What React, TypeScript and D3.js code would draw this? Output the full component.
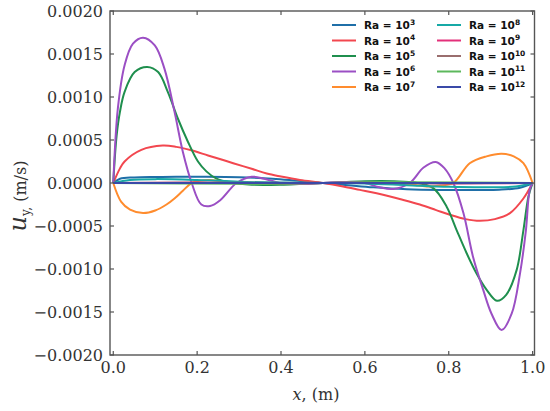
import React from "react";
import * as d3 from "d3";

// ---- data (u in units of 1e-4 m/s) ----
const xTicks = [0, 0.2, 0.4, 0.6, 0.8, 1.0];
const yTicks = [-0.002, -0.0015, -0.001, -0.0005, 0, 0.0005, 0.001, 0.0015, 0.002];

const ra3X = [0, 0.016, 0.05, 0.1, 0.15, 0.22, 0.3, 0.38, 0.44, 0.5, 0.56, 0.62, 0.7, 0.78, 0.85, 0.92, 0.97, 1];
const ra3U = [0, 0.5, 0.65, 0.7, 0.72, 0.73, 0.68, 0.5, 0.25, 0, -0.25, -0.5, -0.72, -0.8, -0.8, -0.78, -0.55, 0];

const ra4X = [0, 0.016, 0.027, 0.067, 0.118, 0.15, 0.186, 0.226, 0.26, 0.286, 0.33, 0.366, 0.4, 0.445, 0.5, 0.548, 0.588, 0.628, 0.69, 0.731, 0.77, 0.803, 0.84, 0.874, 0.91, 0.946, 0.978, 1];
const ra4U = [0, 1.7, 2.5, 3.85, 4.35, 4.2, 3.8, 3.2, 2.7, 2.3, 1.65, 1.1, 0.75, 0.35, 0, -0.4, -0.8, -1.2, -1.95, -2.5, -3.15, -3.7, -4.2, -4.4, -4.2, -3.5, -1.8, 0];

const ra5X = [0, 0.008, 0.016, 0.027, 0.051, 0.081, 0.107, 0.13, 0.154, 0.178, 0.202, 0.222, 0.246, 0.28, 0.33, 0.4, 0.45, 0.5, 0.55, 0.6, 0.67, 0.72, 0.763, 0.795, 0.819, 0.843, 0.866, 0.89, 0.915, 0.937, 0.962, 0.978, 0.99, 1];
const ra5U = [0, 5.5, 8.3, 10.6, 12.9, 13.5, 12.9, 10.6, 7.5, 4.8, 2.5, 1.35, 0.5, 0.05, -0.2, -0.2, -0.1, 0, 0.1, 0.2, 0.2, 0.05, -0.6, -2.75, -5.5, -8.2, -10.5, -12.4, -13.7, -13.0, -10.1, -5.5, -1.6, 0];

const ra6X = [0, 0.011, 0.027, 0.047, 0.071, 0.099, 0.122, 0.146, 0.166, 0.187, 0.21, 0.231, 0.255, 0.294, 0.33, 0.36, 0.397, 0.45, 0.5, 0.55, 0.6, 0.635, 0.668, 0.707, 0.74, 0.769, 0.79, 0.811, 0.835, 0.858, 0.882, 0.902, 0.926, 0.95, 0.97, 0.984, 0.993, 1];
const ra6U = [0, 8.7, 13.7, 16.2, 16.9, 16.0, 13.3, 8.3, 3.6, 0, -2.5, -2.67, -2.0, 0, 0.73, 0.5, 0, -0.12, 0, 0.12, 0, -0.5, -0.7, 0, 1.8, 2.45, 1.7, 0, -3.5, -8.6, -12.4, -15.2, -17.1, -15.2, -10.5, -5.5, -0.8, 0];

const ra7X = [0, 0.019, 0.04, 0.071, 0.1, 0.127, 0.146, 0.166, 0.187, 0.21, 0.23, 0.26, 0.3, 0.4, 0.5, 0.6, 0.7, 0.747, 0.78, 0.811, 0.85, 0.89, 0.926, 0.955, 0.978, 1];
const ra7U = [0, -2.2, -3.1, -3.5, -3.2, -2.5, -1.8, -0.9, 0, 0.3, 0.35, 0.2, 0.05, 0, 0, 0, -0.1, -0.4, -0.3, 0, 2.3, 3.1, 3.4, 3.1, 2.3, 0];

const ra8X = [0, 0.04, 0.1, 0.2, 0.3, 0.4, 0.5, 0.6, 0.7, 0.8, 0.9, 0.96, 1];
const ra8U = [0, 0.35, 0.45, 0.35, 0.15, 0.05, 0, -0.05, -0.25, -0.45, -0.5, -0.4, 0];

const ra9X = [0, 0.2, 0.35, 0.5, 0.65, 0.8, 1];
const ra9U = [0, 0.05, -0.05, 0, 0.05, -0.05, 0];

const ra10X = [0, 0.25, 0.5, 0.75, 1];
const ra10U = [0, 0.03, 0, -0.03, 0];

const ra11X = [0, 0.3, 0.4, 0.5, 0.6, 0.7, 1];
const ra11U = [0, -0.1, -0.1, 0, 0.1, 0.1, 0];

const ra12X = [0, 0.5, 1];
const ra12U = [0, 0, 0];

const exponents = ["3", "4", "5", "6", "7", "8", "9", "10", "11", "12"];
const colors = ["#1f6fa8", "#f2474f", "#1f8f4e", "#9b4fc4", "#ff8c2e", "#16a9a6", "#e3307a", "#9a6e6e", "#5cb85c", "#3a4aa8"];
const seriesX = [ra3X, ra4X, ra5X, ra6X, ra7X, ra8X, ra9X, ra10X, ra11X, ra12X];
const seriesU = [ra3U, ra4U, ra5U, ra6U, ra7U, ra8U, ra9U, ra10U, ra11U, ra12U];

const W = 550;
const H = 411;
const left = 110;
const right = 534.5;
const top = 11;
const bottom = 355;

export default function App() {
  const x = d3.scaleLinear().domain([-0.0078, 1.0045]).range([left, right]);
  const y = d3.scaleLinear().domain([-0.002, 0.002]).range([bottom, top]);
  const line = d3
    .line<[number, number]>()
    .x((d) => x(d[0]))
    .y((d) => y(d[1] * 1e-4))
    .curve(d3.curveCatmullRom.alpha(0.5));

  const tickColor = "#555";
  const labelColor = "#333";
  const serif = "'DejaVu Serif', serif";

  return (
    <svg width={W} height={H} style={{ position: "absolute", left: 0, top: 0, background: "#fff" }}>
      <defs>
        <clipPath id="plotclip">
          <rect x={left} y={top} width={right - left} height={bottom - top} />
        </clipPath>
      </defs>
      <g clipPath="url(#plotclip)">
        {seriesX.map((xs, i) => (
          <path
            key={i}
            d={line(xs.map((v, j) => [v, seriesU[i][j]] as [number, number])) || ""}
            fill="none"
            stroke={colors[i]}
            strokeWidth={2}
            strokeLinejoin="round"
          />
        ))}
      </g>
      {/* frame */}
      <rect x={left} y={top} width={right - left} height={bottom - top} fill="none" stroke={tickColor} strokeWidth={1.4} />
      {/* x ticks */}
      {xTicks.map((t) => (
        <g key={"x" + t}>
          <line x1={x(t)} x2={x(t)} y1={bottom} y2={bottom - 4} stroke={tickColor} strokeWidth={1.2} />
          <line x1={x(t)} x2={x(t)} y1={top} y2={top + 4} stroke={tickColor} strokeWidth={1.2} />
          <text x={x(t)} y={373} textAnchor="middle" fontFamily={serif} fontSize={16} fill={labelColor}>
            {t.toFixed(1)}
          </text>
        </g>
      ))}
      {/* y ticks */}
      {yTicks.map((t) => (
        <g key={"y" + t}>
          <line x1={left} x2={left + 4} y1={y(t)} y2={y(t)} stroke={tickColor} strokeWidth={1.2} />
          <line x1={right} x2={right - 4} y1={y(t)} y2={y(t)} stroke={tickColor} strokeWidth={1.2} />
          <text x={103} y={y(t)} dy="0.36em" textAnchor="end" fontFamily={serif} fontSize={16} fill={labelColor}>
            {(t < 0 ? "\u2212" : "") + Math.abs(t).toFixed(4)}
          </text>
        </g>
      ))}
      {/* axis labels */}
      <text x={316} y={400} textAnchor="middle" fontFamily={serif} fontSize={16} fill={labelColor}>
        <tspan fontStyle="italic">x</tspan>, (m)
      </text>
      <g transform="translate(26,196) rotate(-90)">
        <text x={0} y={0} textAnchor="middle" fontFamily={serif} fontSize={16} fill={labelColor}>
          <tspan fontStyle="italic" fontSize={24}>u</tspan>
          <tspan fontSize={12} dy={4}>y,</tspan>
          <tspan dy={-4}> (m/s)</tspan>
        </text>
      </g>
      {/* legend */}
      {exponents.map((e, i) => {
        const col = Math.floor(i / 5);
        const row = i % 5;
        const lx = col === 0 ? 332 : 437;
        const cy = 25 + row * 15.5;
        return (
          <g key={"lg" + i}>
            <line x1={lx} x2={lx + 24} y1={cy} y2={cy} stroke={colors[i]} strokeWidth={2} />
            <text x={lx + 32} y={cy + 4} fontFamily="'DejaVu Sans', sans-serif" fontWeight="bold" fontSize={10.5} fill="#111">
              Ra = 10
              <tspan fontSize={7.5} dy={-4.5}>{e}</tspan>
            </text>
          </g>
        );
      })}
    </svg>
  );
}
